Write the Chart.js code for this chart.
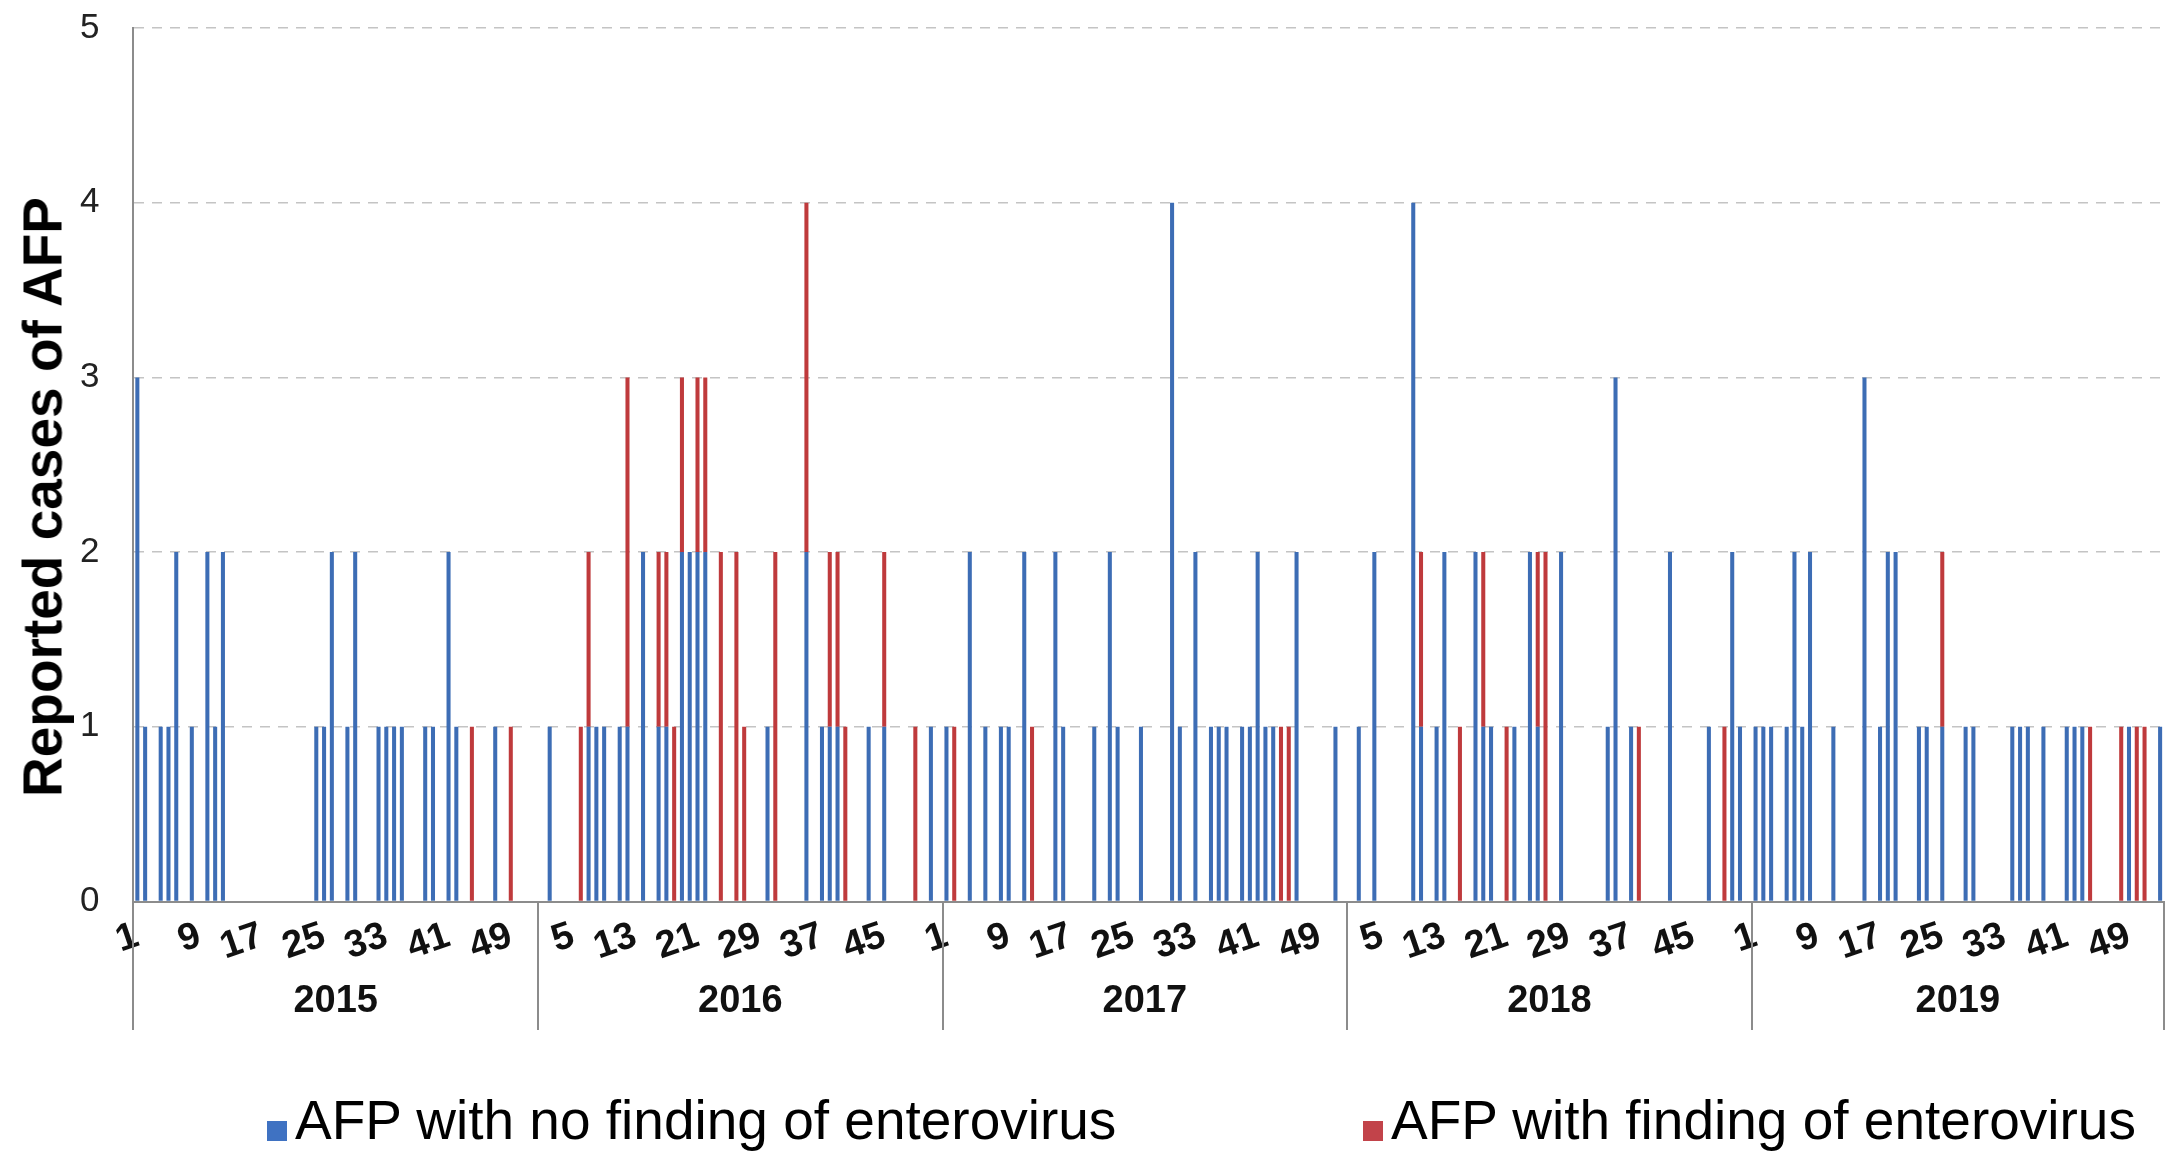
<!DOCTYPE html>
<html>
<head>
<meta charset="utf-8">
<script src="https://cdn.jsdelivr.net/npm/chart.js@4.4.1/dist/chart.umd.min.js"></script>
<style>
  html, body { margin: 0; padding: 0; background: #fff; }
  #wrap { position: relative; width: 2167px; height: 1167px; font-family: "Liberation Sans", Arial, sans-serif; color: #000; }
  #chart { position: absolute; left: 0; top: 0; }
  .ytitle { position: absolute; left: 43px; top: 497px; transform: translate(-50%, -50%) rotate(-90deg);
            font-weight: bold; font-size: 55px; line-height: 1; white-space: nowrap; }
  .key { position: absolute; top: 1121px; width: 20px; height: 20px; }
  .keytxt { position: absolute; top: 1093px; font-size: 55px; line-height: 1; white-space: nowrap; }
</style>
</head>
<body>
<div id="wrap">
  <canvas id="chart" width="2167" height="1167"></canvas>
  <div class="ytitle" id="ytitle"></div>
  <div id="legend"></div>
</div>
<script>
const YEARS = ['2015', '2016', '2017', '2018', '2019'];
const WEEKS_PER_YEAR = [52, 52, 52, 52, 53];
const SERIES = ['AFP with no finding of enterovirus', 'AFP with finding of enterovirus'];
const Y_TITLE = 'Reported cases of AFP';

// weekly counts, one row = 13 weeks
const BLUE_2015 = [
  3,1,0,1,1,2,0,1,0,2,1,2,0,
  0,0,0,0,0,0,0,0,0,0,1,1,2,
  0,1,2,0,0,1,1,1,1,0,0,1,1,
  0,2,1,0,0,0,0,1,0,0,0,0,0];
const RED_2015 = [
  0,0,0,0,0,0,0,0,0,0,0,0,0,
  0,0,0,0,0,0,0,0,0,0,0,0,0,
  0,0,0,0,0,0,0,0,0,0,0,0,0,
  0,0,0,0,1,0,0,0,0,1,0,0,0];

const BLUE_2016 = [
  0,1,0,0,0,0,1,1,1,0,1,1,0,
  2,0,1,1,0,2,2,2,2,0,0,0,0,
  0,0,0,1,0,0,0,0,2,0,1,1,1,
  0,0,0,1,0,1,0,0,0,0,0,1,0];
const RED_2016 = [
  0,0,0,0,0,1,1,0,0,0,0,2,0,
  0,0,1,1,1,1,0,1,1,0,2,0,2,
  1,0,0,0,2,0,0,0,2,0,0,1,1,
  1,0,0,0,0,1,0,0,0,1,0,0,0];

const BLUE_2017 = [
  1,0,0,2,0,1,0,1,1,0,2,0,0,
  0,2,1,0,0,0,1,0,2,1,0,0,1,
  0,0,0,4,1,0,2,0,1,1,1,0,1,
  1,2,1,1,0,0,2,0,0,0,0,1,0];
const RED_2017 = [
  0,1,0,0,0,0,0,0,0,0,0,1,0,
  0,0,0,0,0,0,0,0,0,0,0,0,0,
  0,0,0,0,0,0,0,0,0,0,0,0,0,
  0,0,0,0,1,1,0,0,0,0,0,0,0];

const BLUE_2018 = [
  0,1,0,2,0,0,0,0,4,1,0,1,2,
  0,0,0,2,1,1,0,0,1,0,2,1,0,
  0,2,0,0,0,0,0,1,3,0,1,0,0,
  0,0,2,0,0,0,0,1,0,0,2,1,0];
const RED_2018 = [
  0,0,0,0,0,0,0,0,0,1,0,0,0,
  0,1,0,0,1,0,0,1,0,0,0,1,2,
  0,0,0,0,0,0,0,0,0,0,0,1,0,
  0,0,0,0,0,0,0,0,0,1,0,0,0];

const BLUE_2019 = [
  1,1,1,0,1,2,1,2,0,0,1,0,0,
  0,3,0,1,2,2,0,0,1,1,0,1,0,
  0,1,1,0,0,0,0,1,1,1,0,1,0,
  0,1,1,1,0,0,0,0,0,1,0,0,0,1];
const RED_2019 = [
  0,0,0,0,0,0,0,0,0,0,0,0,0,
  0,0,0,0,0,0,0,0,0,0,0,1,0,
  0,0,0,0,0,0,0,0,0,0,0,0,0,
  0,0,0,0,1,0,0,0,1,0,1,1,0,0];

const BLUE = [].concat(BLUE_2015, BLUE_2016, BLUE_2017, BLUE_2018, BLUE_2019);
const RED = [].concat(RED_2015, RED_2016, RED_2017, RED_2018, RED_2019);
const COLORS = ['#3d6db5', '#bf3a3c'];
const KEY_COLORS = ['#3f72c2', '#c2434a'];

// week number under every bar, year midpoints for the second axis row
const WEEK_LABELS = [];
WEEKS_PER_YEAR.forEach(n => { for (let w = 1; w <= n; w++) WEEK_LABELS.push(String(w)); });
const YEAR_MID = [];
let acc = 0;
WEEKS_PER_YEAR.forEach(n => { YEAR_MID.push(acc + n / 2); acc += n; });
const TOTAL_WEEKS = acc;

const FONT = '"Liberation Sans", Arial, sans-serif';
const CLEAR = 'rgba(0,0,0,0)';

// vertical separators between years, taken from the week scale
const yearDividers = {
  id: 'yearDividers',
  afterDraw(chart) {
    const xs = chart.scales.x;
    const bottom = chart.scales.yr.bottom - 2;
    const ctx = chart.ctx;
    ctx.save();
    ctx.strokeStyle = '#8c8c8c';
    ctx.lineWidth = 2;
    let b = 0;
    [0].concat(WEEKS_PER_YEAR).forEach(n => {
      b += n;
      const px = Math.round(xs.getPixelForValue(b - 0.5));
      ctx.beginPath();
      ctx.moveTo(px, chart.chartArea.bottom);
      ctx.lineTo(px, bottom);
      ctx.stroke();
    });
    ctx.restore();
  }
};

document.getElementById('ytitle').textContent = Y_TITLE;
const legend = document.getElementById('legend');
const KEY_X = [267, 1363];
SERIES.forEach((name, i) => {
  const sq = document.createElement('div');
  sq.className = 'key';
  sq.style.left = KEY_X[i] + 'px';
  sq.style.background = KEY_COLORS[i];
  const t = document.createElement('div');
  t.className = 'keytxt';
  t.style.left = (KEY_X[i] + 28) + 'px';
  t.textContent = name;
  legend.appendChild(sq);
  legend.appendChild(t);
});

new Chart(document.getElementById('chart'), {
  type: 'bar',
  data: {
    labels: WEEK_LABELS,
    datasets: [
      { label: SERIES[0], data: BLUE, backgroundColor: COLORS[0] },
      { label: SERIES[1], data: RED, backgroundColor: COLORS[1] }
    ]
  },
  options: {
    responsive: false,
    devicePixelRatio: 1,
    animation: false,
    barPercentage: 1,
    categoryPercentage: 0.52,
    layout: { padding: { left: 76, right: 3, top: 28, bottom: 135 } },
    plugins: { legend: { display: false }, tooltip: { enabled: false } },
    scales: {
      x: {
        stacked: true,
        grid: { display: true, drawOnChartArea: false, drawTicks: true, tickLength: 12, color: CLEAR },
        border: { display: true, color: '#8c8c8c', width: 2 },
        ticks: {
          autoSkip: false, maxRotation: 19, minRotation: 19, padding: 0,
          color: '#111', font: { family: FONT, size: 38, weight: 'bold' },
          callback: (v, i) => (i % 8 === 0 ? WEEK_LABELS[i] : null)
        }
      },
      yr: {
        type: 'linear', position: 'bottom', min: 0, max: TOTAL_WEEKS, offset: false,
        grid: { display: false, drawTicks: false },
        border: { display: false },
        afterBuildTicks: axis => { axis.ticks = YEAR_MID.map(v => ({ value: v })); },
        ticks: {
          autoSkip: false, maxRotation: 0, padding: 8,
          color: '#111', font: { family: FONT, size: 38, weight: 'bold' },
          callback: (v, i) => YEARS[i]
        }
      },
      y: {
        stacked: true, min: 0, max: 5,
        grid: { color: '#c4c4c4', lineWidth: 1.5, drawTicks: true, tickLength: 30, tickColor: CLEAR },
        border: { display: true, color: '#8c8c8c', width: 2, dash: [10, 8] },
        ticks: { stepSize: 1, padding: 4, color: '#222', font: { family: FONT, size: 35 } }
      }
    }
  },
  plugins: [yearDividers]
});
</script>
</body>
</html>
